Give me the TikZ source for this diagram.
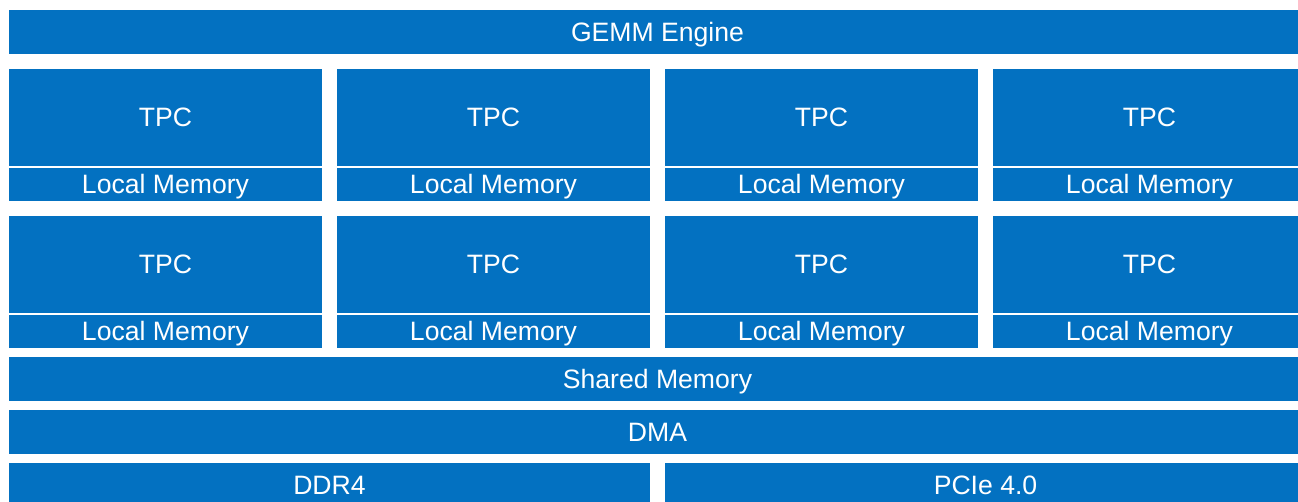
\documentclass[tikz,border=0pt]{standalone}
\usepackage{fontspec}
\setmainfont{Liberation Sans}
\usetikzlibrary{positioning}
\definecolor{gaudiblue}{HTML}{0371C1}

\begin{document}
\begin{tikzpicture}[x=1pt,y=-1pt,
  blk/.style={rectangle,fill=gaudiblue,text=white,inner sep=0pt,outer sep=0pt,anchor=north west,
    font=\fontsize{26.6}{26.6}\selectfont,text height=19pt,text depth=0pt}]
\useasboundingbox (0,0) rectangle (1298,501);
\clip (0,0) rectangle (1298,501);
\node[blk,minimum width=1297pt,minimum height=44pt](gemm) at (9,10){GEMM Engine};
% tpc grid
\foreach \c in {0,...,3}{
  \foreach \r in {0,1}{
    \node[blk,minimum width=313pt,minimum height=97pt](tpc\c\r) at ({9+328*\c},{68.5+147*\r}){TPC};
    \node[blk,minimum width=313pt,minimum height=32.5pt,below=2.7pt of tpc\c\r.south west,anchor=north west](lm\c\r){Local Memory};
  }
}
\node[blk,minimum width=1297pt,minimum height=43.5pt](shared) at (9,357){Shared Memory};
\node[blk,minimum width=1297pt,minimum height=43.5pt](dma) at (9,410){DMA};
\node[blk,minimum width=641pt,minimum height=44pt](ddr) at (9,463){DDR4};
\node[blk,minimum width=641pt,minimum height=44pt](pcie) at (665,463){PCIe 4.0};
\end{tikzpicture}
\end{document}
